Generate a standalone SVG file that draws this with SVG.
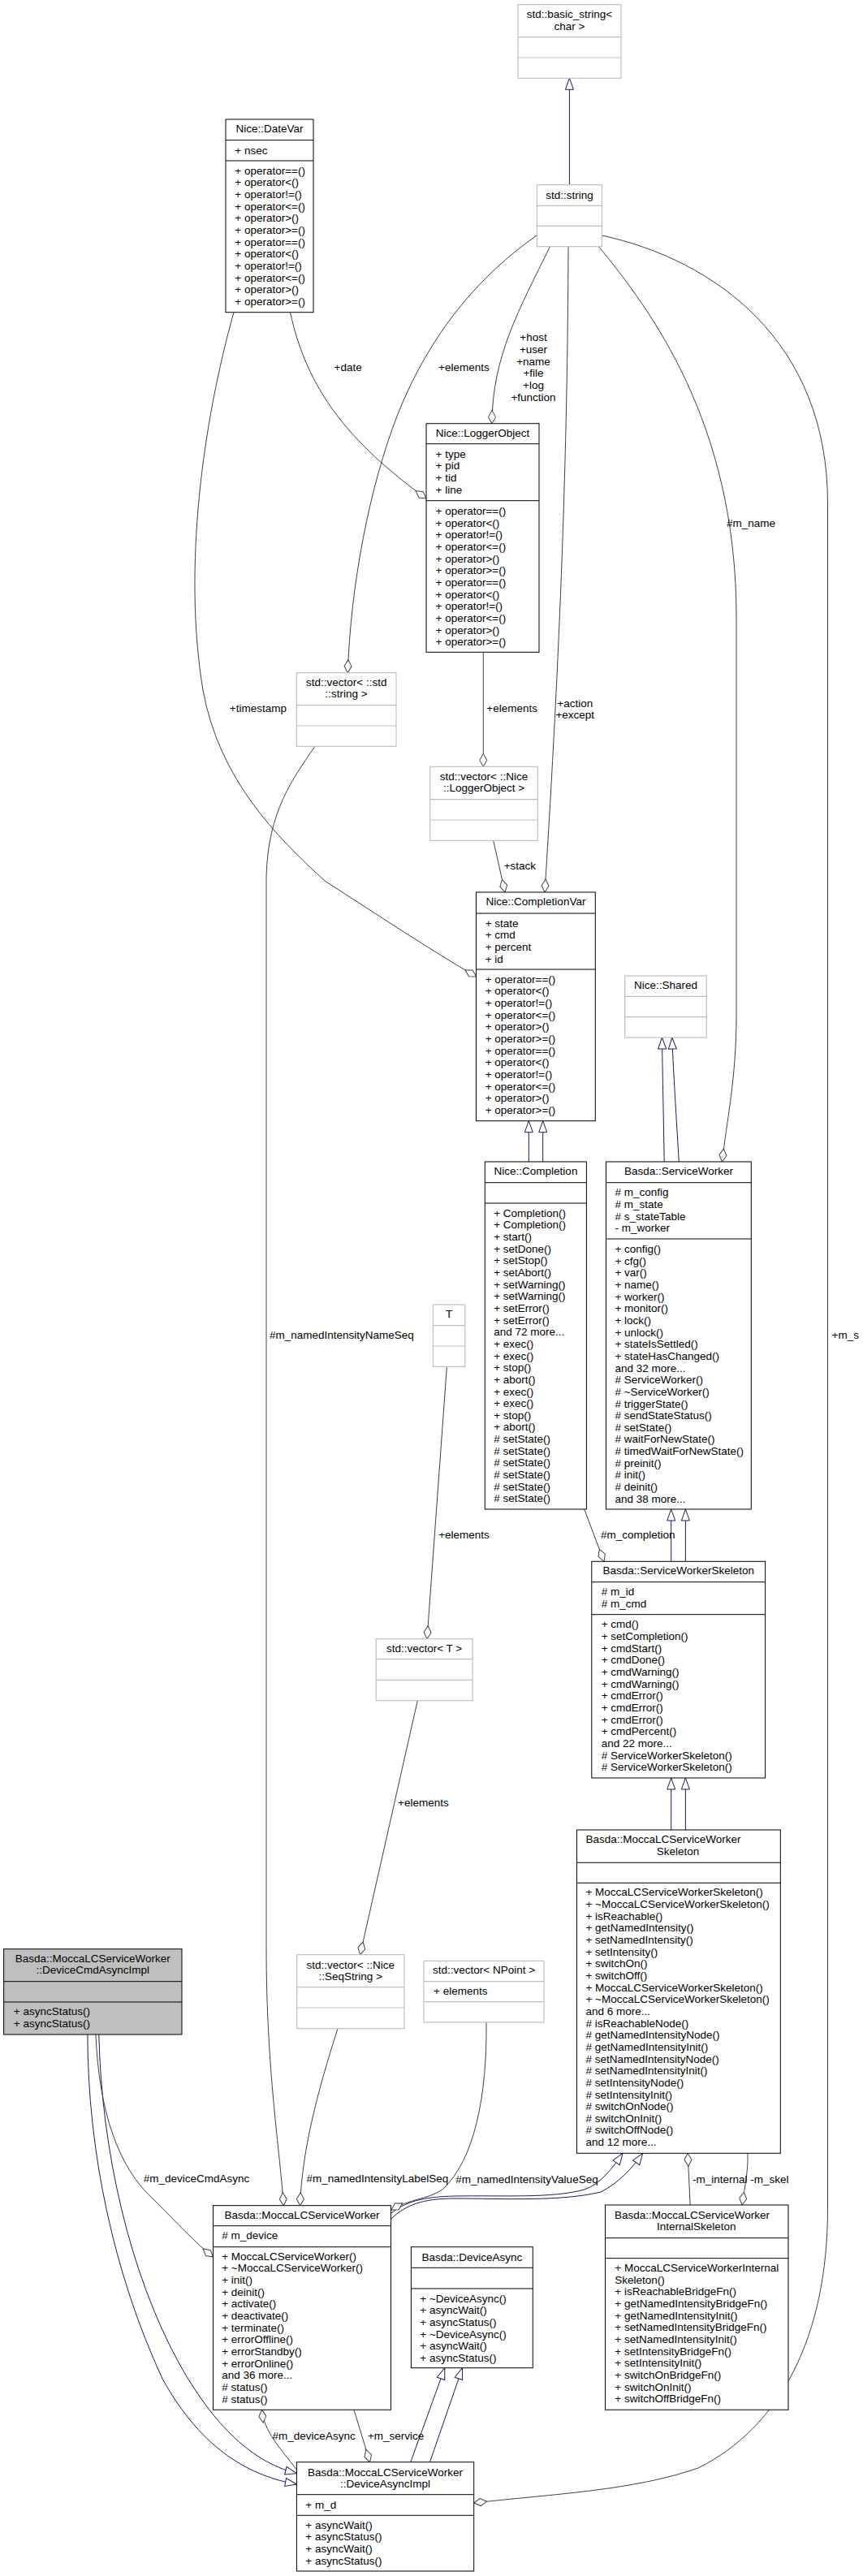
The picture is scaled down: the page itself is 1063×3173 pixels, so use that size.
<svg xmlns="http://www.w3.org/2000/svg" width="1063" height="3173" viewBox="0 0 1063 3173">
<style>
.box{fill:#fff;stroke:#000;stroke-width:1}
.gbox{fill:#fff;stroke:#bfbfbf;stroke-width:1.2}
.sep{stroke:#000;stroke-width:1}
.gsep{stroke:#bfbfbf;stroke-width:1.2}
text{font-family:"Liberation Sans",Arial,Helvetica,sans-serif;font-size:13.5px;fill:#000}
.c{text-anchor:middle}
.agg{fill:none;stroke:#404040;stroke-width:1;marker-end:url(#dia)}
.inh{fill:none;stroke:#191970;stroke-width:1;marker-end:url(#tri)}
</style>
<defs>
<marker id="dia" markerUnits="userSpaceOnUse" viewBox="-18 -6 20 12" markerWidth="20" markerHeight="12" refX="0" refY="0" orient="auto"><path d="M0,0 L-8,-4.5 L-16,0 L-8,4.5 Z" fill="#fff" stroke="#404040" stroke-width="1"/></marker>
<marker id="tri" markerUnits="userSpaceOnUse" viewBox="-16 -7 18 14" markerWidth="18" markerHeight="14" refX="0" refY="0" orient="auto"><path d="M0,0 L-14,-5 L-14,5 Z" fill="#fff" stroke="#191970" stroke-width="1"/></marker>
</defs>
<rect width="1063" height="3173" fill="#fff"/>

<g id="edges">
<path class="inh" d="M701.4,227.7 L701.4,96.3"/>
<path class="inh" d="M651.3,1431 L651.3,1380.7"/>
<path class="inh" d="M668.7,1431 L668.7,1380.7"/>
<path class="inh" d="M818.2,1431 C817,1360 816,1320 815.5,1278"/>
<path class="inh" d="M836.3,1431 C832,1360 829,1310 827.8,1278"/>
<path class="inh" d="M826.7,1923.3 L826.7,1859"/>
<path class="inh" d="M844.4,1923.3 L844.4,1859"/>
<path class="inh" d="M826.7,2254 L826.7,2190"/>
<path class="inh" d="M844.4,2254 L844.4,2190"/>
<path class="inh" d="M481.8,2726 C500,2712 520,2706 560,2705 C620,2704 680,2708 720,2697 C740,2690 755,2670 767,2652.3"/>
<path class="inh" d="M481.8,2733 C500,2716 520,2708 560,2708 C620,2708 690,2712 740,2700 C760,2690 778,2672 791.7,2652.3"/>
<path class="inh" d="M505.8,3032.7 L547.8,2916.7"/>
<path class="inh" d="M529.5,3032.7 L569.5,2916.7"/>
<path class="inh" d="M107.9,2506 C108,2650 140,2800 200,2930 C250,3020 310,3050 365.4,3060"/>
<path class="inh" d="M121.8,2506 C125,2650 160,2800 220,2910 C270,3000 320,3035 365.4,3046.7"/>

<path class="agg" d="M661,290 C590,340 530,410 490,510 C455,600 432,720 428.3,828.7"/>
<path class="agg" d="M677.5,303.7 C640,380 606,440 606,521.7"/>
<path class="agg" d="M700,303.7 C699,560 690,800 671,1099"/>
<path class="agg" d="M737.5,303.7 C800,380 907,520 907,760 L907,1250 C907,1330 895,1380 889.6,1431"/>
<path class="agg" d="M741.4,290 C880,320 1019.5,420 1019.5,620 L1019.5,2720 C1019.5,2880 960,2990 860,3040 C780,3068 680,3072 583.7,3083"/>
<path class="agg" d="M357.5,384.7 C378,480 430,545 525,614"/>
<path class="agg" d="M288,384.7 C250,520 225,700 250,850 C270,960 340,1030 400,1085 C470,1130 530,1170 586.8,1203"/>
<path class="agg" d="M595.3,803.3 L595.3,944.3"/>
<path class="agg" d="M607.7,1035.3 L622,1099"/>
<path class="agg" d="M719.7,1859 L744,1923.3"/>
<path class="agg" d="M550.4,1683.3 L526,2018.7"/>
<path class="agg" d="M514.3,2094.7 L443.6,2407.7"/>
<path class="agg" d="M388,919.3 C360,960 330,1000 328,1080 L328,2400 C328,2550 345,2650 349.3,2716.7"/>
<path class="agg" d="M416,2498.7 C390,2580 372,2650 369.6,2716.7"/>
<path class="agg" d="M599,2491 C600,2580 585,2660 545,2697 C525,2710 505,2708 482,2722"/>
<path class="agg" d="M117.9,2506 C122,2600 145,2670 190,2710 C220,2740 240,2762 262.5,2780"/>
<path class="agg" d="M850.2,2716 L847.1,2652.3"/>
<path class="agg" d="M921,2652.3 C921.5,2675 918,2690 914,2716"/>
<path class="agg" d="M365.4,3042 C345,3015 325,2995 322.7,2968.3"/>
<path class="agg" d="M436,2968.3 L455.6,3032.7"/>

<text class="c" x="571.4" y="457.4">+elements</text>
<text class="c" x="428.6" y="457.4">+date</text>
<text class="c" x="657" y="420.4">+host</text>
<text class="c" x="657" y="435.1">+user</text>
<text class="c" x="657" y="449.7">+name</text>
<text class="c" x="657" y="464.4">+file</text>
<text class="c" x="657" y="479">+log</text>
<text class="c" x="657" y="493.7">+function</text>
<text x="353" y="877.4" text-anchor="end">+timestamp</text>
<text x="599.3" y="877.4">+elements</text>
<text class="c" x="708.3" y="870.7">+action</text>
<text class="c" x="708.3" y="885.4">+except</text>
<text x="620.7" y="1071.4">+stack</text>
<text x="895" y="648.7">#m_name</text>
<text x="1024.6" y="1649.4">+m_s</text>
<text x="332" y="1649.4">#m_namedIntensityNameSeq</text>
<text x="540.2" y="1895.4">+elements</text>
<text x="740" y="1895.4">#m_completion</text>
<text x="490" y="2225.4">+elements</text>
<text x="176.8" y="2688.4">#m_deviceCmdAsync</text>
<text x="377.5" y="2688.4">#m_namedIntensityLabelSeq</text>
<text x="561.3" y="2688.7">#m_namedIntensityValueSeq</text>
<text x="853" y="2688.7">-m_internal</text>
<text x="924.3" y="2688.7">-m_skel</text>
<text x="335.6" y="3004.7">#m_deviceAsync</text>
<text x="452.9" y="3004.7">+m_service</text>
</g>

<g id="basic_string">
<rect class="gbox" x="638" y="5.7" width="127" height="90.6"/>
<line class="gsep" x1="638" y1="45.7" x2="765" y2="45.7"/>
<line class="gsep" x1="638" y1="71" x2="765" y2="71"/>
<text class="c" x="701.5" y="22.4">std::basic_string&lt;</text>
<text class="c" x="701.5" y="37.4">char &gt;</text>
</g>

<g id="std_string">
<rect class="gbox" x="661.4" y="227.7" width="80" height="76"/>
<line class="gsep" x1="661.4" y1="253.3" x2="741.4" y2="253.3"/>
<line class="gsep" x1="661.4" y1="278.3" x2="741.4" y2="278.3"/>
<text class="c" x="701.4" y="244.7">std::string</text>
</g>

<g id="DateVar">
<rect class="box" x="278" y="147" width="108" height="237.7"/>
<line class="sep" x1="278" y1="172.7" x2="386" y2="172.7"/>
<line class="sep" x1="278" y1="198" x2="386" y2="198"/>
<text class="c" x="332" y="163.4">Nice::DateVar</text>
<text x="289.3" y="189.7">+ nsec</text>
<text x="289.3" y="214.7">+ operator==()</text>
<text x="289.3" y="229.4">+ operator&lt;()</text>
<text x="289.3" y="244">+ operator!=()</text>
<text x="289.3" y="258.7">+ operator&lt;=()</text>
<text x="289.3" y="273.3">+ operator&gt;()</text>
<text x="289.3" y="288">+ operator&gt;=()</text>
<text x="289.3" y="302.6">+ operator==()</text>
<text x="289.3" y="317.3">+ operator&lt;()</text>
<text x="289.3" y="331.9">+ operator!=()</text>
<text x="289.3" y="346.6">+ operator&lt;=()</text>
<text x="289.3" y="361.2">+ operator&gt;()</text>
<text x="289.3" y="375.9">+ operator&gt;=()</text>
</g>

<g id="LoggerObject">
<rect class="box" x="525" y="521.7" width="139" height="281.6"/>
<line class="sep" x1="525" y1="546.7" x2="664" y2="546.7"/>
<line class="sep" x1="525" y1="616.7" x2="664" y2="616.7"/>
<text class="c" x="594.5" y="538.4">Nice::LoggerObject</text>
<text x="536.5" y="563.7">+ type</text>
<text x="536.5" y="578.4">+ pid</text>
<text x="536.5" y="593">+ tid</text>
<text x="536.5" y="607.7">+ line</text>
<text x="536.5" y="634">+ operator==()</text>
<text x="536.5" y="648.7">+ operator&lt;()</text>
<text x="536.5" y="663.3">+ operator!=()</text>
<text x="536.5" y="678">+ operator&lt;=()</text>
<text x="536.5" y="692.6">+ operator&gt;()</text>
<text x="536.5" y="707.3">+ operator&gt;=()</text>
<text x="536.5" y="721.9">+ operator==()</text>
<text x="536.5" y="736.6">+ operator&lt;()</text>
<text x="536.5" y="751.2">+ operator!=()</text>
<text x="536.5" y="765.9">+ operator&lt;=()</text>
<text x="536.5" y="780.5">+ operator&gt;()</text>
<text x="536.5" y="795.2">+ operator&gt;=()</text>
</g>

<g id="vector_std_string">
<rect class="gbox" x="365.3" y="828.7" width="122.7" height="90.6"/>
<line class="gsep" x1="365.3" y1="868.7" x2="488" y2="868.7"/>
<line class="gsep" x1="365.3" y1="894" x2="488" y2="894"/>
<text class="c" x="426.7" y="845.4">std::vector&lt; ::std</text>
<text class="c" x="426.7" y="859.4">::string &gt;</text>
</g>

<g id="vector_LoggerObject">
<rect class="gbox" x="529.7" y="944.3" width="132.6" height="91"/>
<line class="gsep" x1="529.7" y1="984.7" x2="662.3" y2="984.7"/>
<line class="gsep" x1="529.7" y1="1010" x2="662.3" y2="1010"/>
<text class="c" x="596" y="961.4">std::vector&lt; ::Nice</text>
<text class="c" x="596" y="975.4">::LoggerObject &gt;</text>
</g>

<g id="CompletionVar">
<rect class="box" x="586.5" y="1099" width="146.8" height="281.7"/>
<line class="sep" x1="586.5" y1="1125" x2="733.3" y2="1125"/>
<line class="sep" x1="586.5" y1="1194" x2="733.3" y2="1194"/>
<text class="c" x="660" y="1115.4">Nice::CompletionVar</text>
<text x="597.7" y="1141.7">+ state</text>
<text x="597.7" y="1156.4">+ cmd</text>
<text x="597.7" y="1171">+ percent</text>
<text x="597.7" y="1185.7">+ id</text>
<text x="597.7" y="1210.7">+ operator==()</text>
<text x="597.7" y="1225.4">+ operator&lt;()</text>
<text x="597.7" y="1240">+ operator!=()</text>
<text x="597.7" y="1254.7">+ operator&lt;=()</text>
<text x="597.7" y="1269.3">+ operator&gt;()</text>
<text x="597.7" y="1284">+ operator&gt;=()</text>
<text x="597.7" y="1298.6">+ operator==()</text>
<text x="597.7" y="1313.3">+ operator&lt;()</text>
<text x="597.7" y="1327.9">+ operator!=()</text>
<text x="597.7" y="1342.6">+ operator&lt;=()</text>
<text x="597.7" y="1357.2">+ operator&gt;()</text>
<text x="597.7" y="1371.9">+ operator&gt;=()</text>
</g>

<g id="Shared">
<rect class="gbox" x="769.6" y="1202" width="100.6" height="76"/>
<line class="gsep" x1="769.6" y1="1227.3" x2="870.2" y2="1227.3"/>
<line class="gsep" x1="769.6" y1="1252.7" x2="870.2" y2="1252.7"/>
<text class="c" x="820" y="1218.4">Nice::Shared</text>
</g>

<g id="Completion">
<rect class="box" x="597.3" y="1431" width="125.1" height="428"/>
<line class="sep" x1="597.3" y1="1456.7" x2="722.4" y2="1456.7"/>
<line class="sep" x1="597.3" y1="1482" x2="722.4" y2="1482"/>
<text class="c" x="660" y="1447.4">Nice::Completion</text>
<text x="608.2" y="1498.7">+ Completion()</text>
<text x="608.2" y="1513.4">+ Completion()</text>
<text x="608.2" y="1528">+ start()</text>
<text x="608.2" y="1542.7">+ setDone()</text>
<text x="608.2" y="1557.3">+ setStop()</text>
<text x="608.2" y="1572">+ setAbort()</text>
<text x="608.2" y="1586.6">+ setWarning()</text>
<text x="608.2" y="1601.3">+ setWarning()</text>
<text x="608.2" y="1615.9">+ setError()</text>
<text x="608.2" y="1630.6">+ setError()</text>
<text x="608.2" y="1645.2">and 72 more...</text>
<text x="608.2" y="1659.9">+ exec()</text>
<text x="608.2" y="1674.5">+ exec()</text>
<text x="608.2" y="1689.2">+ stop()</text>
<text x="608.2" y="1703.8">+ abort()</text>
<text x="608.2" y="1718.5">+ exec()</text>
<text x="608.2" y="1733.1">+ exec()</text>
<text x="608.2" y="1747.8">+ stop()</text>
<text x="608.2" y="1762.4">+ abort()</text>
<text x="608.2" y="1777.1"># setState()</text>
<text x="608.2" y="1791.7"># setState()</text>
<text x="608.2" y="1806.4"># setState()</text>
<text x="608.2" y="1821"># setState()</text>
<text x="608.2" y="1835.7"># setState()</text>
<text x="608.2" y="1850.3"># setState()</text>
</g>

<g id="ServiceWorker">
<rect class="box" x="746.5" y="1431" width="178.8" height="428"/>
<line class="sep" x1="746.5" y1="1456.7" x2="925.3" y2="1456.7"/>
<line class="sep" x1="746.5" y1="1526" x2="925.3" y2="1526"/>
<text class="c" x="836" y="1447.4">Basda::ServiceWorker</text>
<text x="757.4" y="1473.4"># m_config</text>
<text x="757.4" y="1488.1"># m_state</text>
<text x="757.4" y="1502.7"># s_stateTable</text>
<text x="757.4" y="1517.4">- m_worker</text>
<text x="757.4" y="1543">+ config()</text>
<text x="757.4" y="1557.7">+ cfg()</text>
<text x="757.4" y="1572.3">+ var()</text>
<text x="757.4" y="1587">+ name()</text>
<text x="757.4" y="1601.6">+ worker()</text>
<text x="757.4" y="1616.3">+ monitor()</text>
<text x="757.4" y="1630.9">+ lock()</text>
<text x="757.4" y="1645.6">+ unlock()</text>
<text x="757.4" y="1660.2">+ stateIsSettled()</text>
<text x="757.4" y="1674.9">+ stateHasChanged()</text>
<text x="757.4" y="1689.5">and 32 more...</text>
<text x="757.4" y="1704.2"># ServiceWorker()</text>
<text x="757.4" y="1718.8"># ~ServiceWorker()</text>
<text x="757.4" y="1733.5"># triggerState()</text>
<text x="757.4" y="1748.1"># sendStateStatus()</text>
<text x="757.4" y="1762.8"># setState()</text>
<text x="757.4" y="1777.4"># waitForNewState()</text>
<text x="757.4" y="1792.1"># timedWaitForNewState()</text>
<text x="757.4" y="1806.7"># preinit()</text>
<text x="757.4" y="1821.4"># init()</text>
<text x="757.4" y="1836"># deinit()</text>
<text x="757.4" y="1850.7">and 38 more...</text>
</g>

<g id="T">
<rect class="gbox" x="533.4" y="1607" width="39.4" height="76.3"/>
<line class="gsep" x1="533.4" y1="1632.7" x2="572.8" y2="1632.7"/>
<line class="gsep" x1="533.4" y1="1658" x2="572.8" y2="1658"/>
<text class="c" x="553" y="1623.4">T</text>
</g>

<g id="ServiceWorkerSkeleton">
<rect class="box" x="728.8" y="1923.3" width="213.8" height="266.7"/>
<line class="sep" x1="728.8" y1="1948.7" x2="942.6" y2="1948.7"/>
<line class="sep" x1="728.8" y1="1988.7" x2="942.6" y2="1988.7"/>
<text class="c" x="835.7" y="1939">Basda::ServiceWorkerSkeleton</text>
<text x="740.7" y="1965.4"># m_id</text>
<text x="740.7" y="1980"># m_cmd</text>
<text x="740.7" y="2005.4">+ cmd()</text>
<text x="740.7" y="2020.1">+ setCompletion()</text>
<text x="740.7" y="2034.7">+ cmdStart()</text>
<text x="740.7" y="2049.4">+ cmdDone()</text>
<text x="740.7" y="2064">+ cmdWarning()</text>
<text x="740.7" y="2078.7">+ cmdWarning()</text>
<text x="740.7" y="2093.3">+ cmdError()</text>
<text x="740.7" y="2108">+ cmdError()</text>
<text x="740.7" y="2122.6">+ cmdError()</text>
<text x="740.7" y="2137.3">+ cmdPercent()</text>
<text x="740.7" y="2151.9">and 22 more...</text>
<text x="740.7" y="2166.6"># ServiceWorkerSkeleton()</text>
<text x="740.7" y="2181.2"># ServiceWorkerSkeleton()</text>
</g>

<g id="vector_T">
<rect class="gbox" x="463.2" y="2018.7" width="118.8" height="76"/>
<line class="gsep" x1="463.2" y1="2043.7" x2="582" y2="2043.7"/>
<line class="gsep" x1="463.2" y1="2069.3" x2="582" y2="2069.3"/>
<text class="c" x="522.6" y="2035.4">std::vector&lt; T &gt;</text>
</g>

<g id="MoccaLCServiceWorkerSkeleton">
<rect class="box" x="710.5" y="2254" width="250.8" height="398.3"/>
<line class="sep" x1="710.5" y1="2294.3" x2="961.3" y2="2294.3"/>
<line class="sep" x1="710.5" y1="2319.3" x2="961.3" y2="2319.3"/>
<text x="721.4" y="2270.4">Basda::MoccaLCServiceWorker</text>
<text class="c" x="835" y="2285">Skeleton</text>
<text x="721.4" y="2335.4">+ MoccaLCServiceWorkerSkeleton()</text>
<text x="721.4" y="2350.1">+ ~MoccaLCServiceWorkerSkeleton()</text>
<text x="721.4" y="2364.7">+ isReachable()</text>
<text x="721.4" y="2379.4">+ getNamedIntensity()</text>
<text x="721.4" y="2394">+ setNamedIntensity()</text>
<text x="721.4" y="2408.7">+ setIntensity()</text>
<text x="721.4" y="2423.3">+ switchOn()</text>
<text x="721.4" y="2438">+ switchOff()</text>
<text x="721.4" y="2452.6">+ MoccaLCServiceWorkerSkeleton()</text>
<text x="721.4" y="2467.3">+ ~MoccaLCServiceWorkerSkeleton()</text>
<text x="721.4" y="2481.9">and 6 more...</text>
<text x="721.4" y="2496.6"># isReachableNode()</text>
<text x="721.4" y="2511.2"># getNamedIntensityNode()</text>
<text x="721.4" y="2525.9"># getNamedIntensityInit()</text>
<text x="721.4" y="2540.5"># setNamedIntensityNode()</text>
<text x="721.4" y="2555.2"># setNamedIntensityInit()</text>
<text x="721.4" y="2569.8"># setIntensityNode()</text>
<text x="721.4" y="2584.5"># setIntensityInit()</text>
<text x="721.4" y="2599.1"># switchOnNode()</text>
<text x="721.4" y="2613.8"># switchOnInit()</text>
<text x="721.4" y="2628.4"># switchOffNode()</text>
<text x="721.4" y="2643.1">and 12 more...</text>
</g>

<g id="DeviceCmdAsyncImpl">
<rect class="box" x="4.6" y="2400.7" width="219.4" height="105.3" style="fill:#bfbfbf"/>
<line class="sep" x1="4.6" y1="2440.7" x2="224" y2="2440.7"/>
<line class="sep" x1="4.6" y1="2466" x2="224" y2="2466"/>
<text class="c" x="114.3" y="2417">Basda::MoccaLCServiceWorker</text>
<text class="c" x="114.3" y="2431.4">::DeviceCmdAsyncImpl</text>
<text x="16.8" y="2482.4">+ asyncStatus()</text>
<text x="16.8" y="2497">+ asyncStatus()</text>
</g>

<g id="vector_SeqString">
<rect class="gbox" x="365.7" y="2407.7" width="132.2" height="91"/>
<line class="gsep" x1="365.7" y1="2447.7" x2="497.9" y2="2447.7"/>
<line class="gsep" x1="365.7" y1="2473" x2="497.9" y2="2473"/>
<text class="c" x="431.8" y="2424.7">std::vector&lt; ::Nice</text>
<text class="c" x="431.8" y="2439">::SeqString &gt;</text>
</g>

<g id="vector_NPoint">
<rect class="gbox" x="522" y="2415.5" width="148" height="75.5"/>
<line class="gsep" x1="522" y1="2440.7" x2="670" y2="2440.7"/>
<line class="gsep" x1="522" y1="2465.7" x2="670" y2="2465.7"/>
<text class="c" x="596" y="2431.4">std::vector&lt; NPoint &gt;</text>
<text x="534" y="2457.4">+ elements</text>
</g>

<g id="MoccaLCServiceWorker">
<rect class="box" x="262.5" y="2716.7" width="219" height="251.6"/>
<line class="sep" x1="262.5" y1="2741.7" x2="481.5" y2="2741.7"/>
<line class="sep" x1="262.5" y1="2767.7" x2="481.5" y2="2767.7"/>
<text class="c" x="372" y="2733.4">Basda::MoccaLCServiceWorker</text>
<text x="273.2" y="2758"># m_device</text>
<text x="273.2" y="2783.7">+ MoccaLCServiceWorker()</text>
<text x="273.2" y="2798.4">+ ~MoccaLCServiceWorker()</text>
<text x="273.2" y="2813">+ init()</text>
<text x="273.2" y="2827.7">+ deinit()</text>
<text x="273.2" y="2842.3">+ activate()</text>
<text x="273.2" y="2857">+ deactivate()</text>
<text x="273.2" y="2871.6">+ terminate()</text>
<text x="273.2" y="2886.3">+ errorOffline()</text>
<text x="273.2" y="2900.9">+ errorStandby()</text>
<text x="273.2" y="2915.6">+ errorOnline()</text>
<text x="273.2" y="2930.2">and 36 more...</text>
<text x="273.2" y="2944.9"># status()</text>
<text x="273.2" y="2959.5"># status()</text>
</g>

<g id="DeviceAsync">
<rect class="box" x="506.4" y="2767.7" width="149.9" height="149"/>
<line class="sep" x1="506.4" y1="2793.3" x2="656.3" y2="2793.3"/>
<line class="sep" x1="506.4" y1="2819" x2="656.3" y2="2819"/>
<text class="c" x="581.4" y="2784.7">Basda::DeviceAsync</text>
<text x="517.3" y="2835.7">+ ~DeviceAsync()</text>
<text x="517.3" y="2850.4">+ asyncWait()</text>
<text x="517.3" y="2865">+ asyncStatus()</text>
<text x="517.3" y="2879.7">+ ~DeviceAsync()</text>
<text x="517.3" y="2894.3">+ asyncWait()</text>
<text x="517.3" y="2909">+ asyncStatus()</text>
</g>

<g id="InternalSkeleton">
<rect class="box" x="745.5" y="2716" width="225.5" height="252.3"/>
<line class="sep" x1="745.5" y1="2756.7" x2="971" y2="2756.7"/>
<line class="sep" x1="745.5" y1="2781.7" x2="971" y2="2781.7"/>
<text x="757" y="2733">Basda::MoccaLCServiceWorker</text>
<text class="c" x="857.7" y="2747.4">InternalSkeleton</text>
<text x="757.3" y="2798">+ MoccaLCServiceWorkerInternal</text>
<text x="757.3" y="2812.7">Skeleton()</text>
<text x="757.3" y="2827.3">+ isReachableBridgeFn()</text>
<text x="757.3" y="2842">+ getNamedIntensityBridgeFn()</text>
<text x="757.3" y="2856.6">+ getNamedIntensityInit()</text>
<text x="757.3" y="2871.3">+ setNamedIntensityBridgeFn()</text>
<text x="757.3" y="2885.9">+ setNamedIntensityInit()</text>
<text x="757.3" y="2900.6">+ setIntensityBridgeFn()</text>
<text x="757.3" y="2915.2">+ setIntensityInit()</text>
<text x="757.3" y="2929.9">+ switchOnBridgeFn()</text>
<text x="757.3" y="2944.5">+ switchOnInit()</text>
<text x="757.3" y="2959.2">+ switchOffBridgeFn()</text>
</g>

<g id="DeviceAsyncImpl">
<rect class="box" x="365.4" y="3032.7" width="218.3" height="134.3"/>
<line class="sep" x1="365.4" y1="3072.7" x2="583.7" y2="3072.7"/>
<line class="sep" x1="365.4" y1="3098.3" x2="583.7" y2="3098.3"/>
<text class="c" x="474.5" y="3049.7">Basda::MoccaLCServiceWorker</text>
<text class="c" x="474.5" y="3064">::DeviceAsyncImpl</text>
<text x="376.3" y="3089.7">+ m_d</text>
<text x="376.3" y="3114.7">+ asyncWait()</text>
<text x="376.3" y="3129.4">+ asyncStatus()</text>
<text x="376.3" y="3144">+ asyncWait()</text>
<text x="376.3" y="3158.7">+ asyncStatus()</text>
</g>
</svg>
